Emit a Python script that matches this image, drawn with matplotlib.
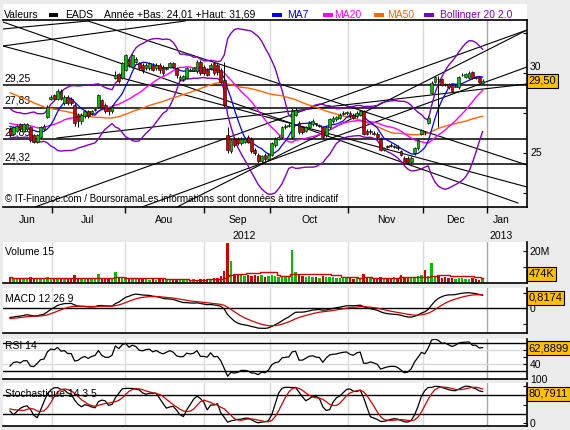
import numpy as np
import pandas as pd
import matplotlib
matplotlib.use("Agg")
import matplotlib.pyplot as plt
from matplotlib.patches import Rectangle
from matplotlib.transforms import blended_transform_factory as blend

plt.rcParams['font.family'] = ['Liberation Sans', 'DejaVu Sans']

W, H = 570, 430
BG = '#ebebeb'
GREEN = '#00c000'
RED = '#d00000'
PURPLE = '#8000c0'
GOLD = '#ffc000'

# closes before the visible window (only feed the MA50 / Bollinger / MACD start)
pre_close = [31.2, 30.9, 31.4, 30.8, 30.6, 31.0, 30.7, 30.3, 30.9, 31.1, 30.6, 30.4, 30.8, 30.5, 30.9,
             30.4, 30.6, 30.1, 29.8, 30.0, 29.5, 29.7, 29.2, 28.9, 29.3, 28.7, 28.4, 28.6, 28.1, 27.9,
             27.8, 27.4, 26.9, 27.3, 26.6, 26.3, 26.9, 27.4, 26.7, 26.2, 26.5, 27.0, 27.5, 27.1, 26.7,
             26.3, 26.9, 27.1, 26.5]

# daily candles, mid June -> end of December 2012
opens = [26.5, 26.2, 26.4, 26.8, 26.4, 26.5, 26.6, 26.1, 25.7, 26.0,
         26.5, 27.25, 28.4, 28.6, 28.4, 28.9, 28.1, 28.5, 28.4, 28.0,
         27.4, 27.0, 27.3, 27.6, 27.5, 27.7, 27.9, 28.3, 28.0, 27.8,
         27.6, 29.7, 29.95, 29.7, 30.2, 30.9, 30.4, 30.7, 30.6, 30.5,
         30.3, 30.3, 30.5, 30.3, 30.5, 30.4, 30.25, 30.4, 30.6, 30.3,
         29.6, 29.6, 29.7, 30.15, 30.2, 30.1, 30.7, 30.4, 30.2, 30.3,
         30.6, 30.5, 30.2, 29.55, 26.1, 25.1, 25.9, 25.9, 25.6, 25.7,
         26.0, 25.9, 25.2, 24.9, 24.5, 24.9, 24.6, 24.9, 25.5, 25.9,
         26.0, 26.65, 26.7, 26.0, 27.4, 26.9, 26.6, 26.4, 26.6, 26.8,
         26.85, 26.7, 26.6, 26.1, 26.6, 27.0, 27.1, 27.2, 27.45, 27.5,
         27.5, 27.4, 27.3, 27.4, 27.6, 26.4, 26.3, 26.25, 26.2, 25.9,
         25.2, 25.4, 25.5, 25.4, 25.35, 25.1, 24.7, 24.7, 24.45, 25.0,
         25.3, 26.2, 26.3, 26.9, 28.75, 29.45, 29.6, 29.6, 29.3, 29.3,
         29.25, 29.15, 29.1, 29.85, 29.75, 29.7, 30.05, 29.7, 29.75, 29.4]
closes = [26.1, 26.6, 26.7, 26.5, 26.8, 26.8, 25.8, 25.7, 26.1, 26.6,
          26.7, 27.9, 28.5, 28.4, 28.9, 28.4, 28.5, 28.1, 28.1, 26.9,
          27.0, 27.4, 27.6, 27.3, 27.6, 27.75, 28.6, 27.9, 27.6, 27.6,
          27.9, 29.9, 29.5, 30.6, 31.1, 30.5, 31.1, 30.9, 30.3, 30.2,
          30.5, 30.6, 30.2, 30.5, 30.2, 30.0, 30.3, 30.6, 30.4, 29.9,
          29.75, 29.8, 30.3, 30.2, 30.3, 30.7, 30.0, 30.0, 29.9, 30.5,
          30.0, 30.05, 29.45, 28.0, 25.2, 25.8, 25.5, 25.6, 25.9, 25.9,
          25.7, 25.1, 25.0, 24.5, 24.8, 24.6, 24.9, 25.6, 25.9, 26.0,
          26.6, 26.7, 26.75, 27.6, 27.7, 26.3, 26.3, 26.6, 26.9, 27.0,
          26.8, 26.75, 26.0, 26.6, 27.1, 27.2, 27.25, 27.4, 27.5, 27.55,
          27.3, 27.2, 27.5, 27.6, 26.2, 26.2, 26.35, 26.2, 26.0, 25.2,
          25.3, 25.4, 25.45, 25.45, 25.3, 24.9, 24.4, 24.45, 24.7, 25.3,
          25.8, 26.45, 26.3, 27.2, 29.4, 29.75, 29.6, 29.25, 29.3, 29.1,
          28.9, 29.2, 29.75, 29.9, 29.95, 30.0, 29.7, 29.7, 29.45, 29.5]
highs = [26.6, 26.7, 26.8, 26.9, 26.9, 26.9, 26.7, 26.2, 26.2, 26.7,
         26.8, 28.0, 28.6, 28.7, 29.0, 29.0, 28.6, 28.6, 28.5, 28.1,
         27.5, 27.5, 27.7, 27.7, 27.7, 27.8, 28.7, 28.4, 28.1, 27.9,
         28.0, 30.1, 30.0, 30.7, 31.2, 31.0, 31.2, 31.0, 30.7, 30.6,
         30.6, 30.7, 30.6, 30.6, 30.6, 30.5, 30.4, 30.7, 30.7, 30.4,
         29.9, 29.9, 30.4, 30.3, 30.4, 30.8, 30.8, 30.5, 30.3, 30.6,
         30.7, 30.6, 30.3, 30.7, 26.6, 25.9, 26.0, 26.0, 26.0, 26.0,
         26.1, 26.0, 25.3, 25.0, 24.9, 25.0, 25.0, 25.7, 26.0, 26.1,
         26.7, 26.8, 26.9, 27.8, 27.8, 27.0, 26.7, 26.7, 27.0, 27.1,
         26.9, 26.8, 26.7, 26.7, 27.2, 27.3, 27.3, 27.5, 27.6, 27.6,
         27.6, 27.5, 27.6, 27.7, 27.7, 26.5, 26.5, 26.4, 26.3, 26.0,
         25.4, 25.5, 25.6, 25.5, 25.5, 25.2, 24.8, 24.8, 24.8, 25.4,
         25.9, 26.5, 26.4, 27.3, 29.5, 29.8, 29.8, 29.7, 29.4, 29.4,
         29.3, 29.3, 29.8, 30.0, 30.0, 30.1, 30.1, 29.8, 29.8, 29.6]
lows = [26.0, 26.1, 26.3, 26.4, 26.3, 26.4, 25.7, 25.6, 25.6, 25.9,
        26.4, 27.2, 28.3, 28.3, 28.3, 28.3, 28.0, 28.0, 28.0, 26.7,
        26.6, 26.8, 27.2, 27.2, 27.4, 27.6, 27.8, 27.8, 27.5, 27.4,
        27.5, 29.6, 29.4, 29.6, 30.1, 30.4, 30.3, 30.6, 30.2, 30.0,
        30.2, 30.2, 30.1, 30.2, 30.0, 29.9, 30.2, 30.3, 30.3, 29.7,
        29.5, 29.5, 29.6, 30.1, 30.1, 30.0, 29.9, 29.9, 29.8, 30.2,
        29.9, 29.9, 29.4, 27.9, 25.0, 25.0, 25.4, 25.5, 25.5, 25.6,
        25.6, 25.0, 24.9, 24.4, 24.3, 24.5, 24.5, 24.8, 25.4, 25.8,
        25.9, 26.5, 26.6, 25.9, 27.3, 26.2, 26.2, 26.3, 26.5, 26.7,
        26.7, 26.6, 25.9, 26.0, 26.5, 26.9, 27.0, 27.1, 27.4, 27.4,
        27.2, 27.1, 27.2, 27.3, 26.1, 26.1, 26.2, 26.1, 25.9, 25.1,
        25.1, 25.3, 25.4, 25.3, 25.2, 24.8, 24.3, 24.3, 24.4, 24.9,
        25.2, 26.1, 26.1, 26.8, 28.7, 29.4, 26.6, 29.2, 29.2, 29.0,
        28.8, 29.1, 29.0, 29.8, 29.7, 29.6, 29.6, 29.6, 29.4, 29.3]
# volume in millions of shares
volume = [3.8, 2.9, 3.2, 2.6, 3.0, 2.7, 3.5, 3.1, 2.8, 3.3, 2.9,
          3.6, 3.0, 2.7, 3.2, 2.9, 2.6, 3.1, 2.8, 5.3,
          3.4, 2.9, 3.1, 2.7, 2.8, 2.6, 5.4, 3.0, 2.8, 2.6, 2.9, 6.8,
          3.5, 3.2, 3.6, 2.9, 3.1, 2.7,
          2.4, 2.2, 2.6, 2.1, 2.3, 1.9, 2.2, 2.5, 1.6, 1.8, 2.0, 2.3, 2.6, 2.1, 2.4, 1.9, 2.2, 2.0, 2.7, 2.5, 2.3,
          2.6, 3.0, 3.4, 4.2, 7.6, 25.0, 13.6,
          5.2, 4.8, 5.0, 4.6, 5.1,
          4.2, 5.0, 4.4, 4.7, 3.9, 4.5, 4.8, 4.3, 3.8, 4.6, 4.0, 4.4, 20.8, 6.6,
          5.2, 4.5, 3.9, 4.2, 3.6, 3.8, 3.4, 4.1, 3.7, 3.5, 3.9,
          3.2, 3.0, 3.4, 2.9, 3.1, 2.8, 3.3, 3.0, 5.6,
          3.6, 3.2, 3.0, 3.4, 4.0, 3.3, 2.9, 3.1, 3.5, 3.2, 5.0,
          3.6, 3.4, 3.1, 3.8, 4.2, 5.0, 7.9, 4.4, 12.3,
          4.6, 4.1, 3.3, 3.5, 2.9, 3.2, 2.7, 3.4, 3.0, 2.6, 2.8, 3.2, 2.2, 2.0, 2.4]

levels = [29.25, 27.83, 25.85, 24.32]
level_labels = ['29,25', '27,83', '25,85', '24,32']

# trend lines: (day0, price0, day1, price1)
trend_lines = [
    (22.94, 33.245, 152.06, 24.256),
    (-2.06, 32.746, 22.94, 33.245),
    (-2.06, 31.684, 51.47, 33.245),
    (-2.06, 31.684, 152.06, 22.883),
    (-2.06, 33.183, 149.41, 21.884),
    (7.35, 21.634, 152.06, 32.683),
    (13.82, 25.942, 152.06, 29.312),
    (49.12, 21.634, 152.06, 32.683),
    (38.82, 21.634, 152.06, 30.374),
]

month_edges = [12.35, 33.8, 57.1, 76.5, 99.4, 121.5]
last_day = 140.3
months = ['Jun', 'Jul', 'Aou', 'Sep', 'Oct', 'Nov', 'Dec', 'Jan']
month_pos = [5.0, 22.9, 45.3, 67.1, 88.2, 110.6, 130.9, 144.4]
years = ['2012', '2013']
year_pos = [68.8, 144.4]

# ---- indicators ----
n = len(closes)
x = np.arange(n)
k = len(pre_close)
allc = pd.Series(pre_close + closes)
ma7 = allc.rolling(7).mean().iloc[k:].values
m20 = allc.rolling(20).mean()
sd20 = allc.rolling(20).std(ddof=0)
bb_up = (m20 + 2 * sd20).iloc[k:].values
bb_lo = (m20 - 2 * sd20).iloc[k:].values
ma20 = m20.iloc[k:].values
ma50 = allc.rolling(50).mean().iloc[k:].values

macd = allc.ewm(span=12, adjust=False).mean() - allc.ewm(span=26, adjust=False).mean()
signal = macd.ewm(span=9, adjust=False).mean()
macd, signal = macd.iloc[k:].values, signal.iloc[k:].values

d = allc.diff()
gain = d.clip(lower=0).ewm(alpha=1 / 14, adjust=False).mean()
loss = (-d.clip(upper=0)).ewm(alpha=1 / 14, adjust=False).mean()
rsi = (100 - 100 / (1 + gain / loss)).iloc[k:].values

allh = pd.Series(pre_close + highs)
alll = pd.Series(pre_close + lows)
hh = allh.rolling(14).max()
ll = alll.rolling(14).min()
kslow = (100 * (allc - ll) / (hh - ll)).rolling(3).mean()
dline = kslow.rolling(5).mean()
kslow, dline = kslow.iloc[k:].values, dline.iloc[k:].values

vol_ma = pd.Series(volume).rolling(15, min_periods=1).mean().values

o = np.array(opens)
c = np.array(closes)
up = c > o
cols = np.where(up, GREEN, RED)

# ---- figure ----
fig = plt.figure(figsize=(W / 100, H / 100), dpi=100, facecolor=BG)


def px(x0, y0, x1, y1):
    return [x0 / W, 1 - y1 / H, (x1 - x0) / W, (y1 - y0) / H]


def panel(y0, y1, ylim):
    ax = fig.add_axes(px(3, y0, 527, y1))
    ax.set_facecolor('white')
    ax.set_xlim(-2.06, 152.06)
    ax.set_ylim(*ylim)
    for s in ('left', 'top'):
        ax.spines[s].set_visible(False)
    for s in ('bottom', 'right'):
        ax.spines[s].set_linewidth(1.2)
    ax.yaxis.tick_right()
    ax.tick_params(axis='y', direction='in', length=3, labelsize=7.5, pad=2)
    ax.set_xticks([])
    for m in month_edges:
        ax.axvline(m, color='#dadada', lw=1, zorder=0)
    ax.axvline(last_day, color='#a6a6a6', lw=1, zorder=0)
    return ax


def box(ax, y, txt):
    ax.text(1.003, y, txt, transform=blend(ax.transAxes, ax.transData), ha='left', va='center',
            fontsize=8, zorder=10, clip_on=False,
            bbox=dict(boxstyle='square,pad=0.18', fc=GOLD, ec='black', lw=0.8))


def side_label(ax, y, txt, va='center'):
    ax.text(1.006, y, txt, transform=blend(ax.transAxes, ax.transData), ha='left', va=va,
            fontsize=7.5, clip_on=False)


# legend strip
fig.add_artist(Rectangle((3 / W, 1 - 20 / H), 524 / W, 16 / H, transform=fig.transFigure,
                         fc='white', ec='none', zorder=0))
ly = 1 - 14.5 / H
fig.text(3.6 / W, ly, 'Valeurs', fontsize=7.5, va='center')
fig.text(65 / W, ly, 'EADS', fontsize=7.5, va='center')
fig.text(104 / W, ly, 'Année +Bas: 24,01 +Haut: 31,69', fontsize=7.5, va='center')
legend_items = [('MA7', '#0000ff', 272, 287), ('MA20', '#ff00ff', 323, 334),
                ('MA50', '#ff6600', 374, 387), ('Bollinger 20 2.0', PURPLE, 424, 440)]
fig.add_artist(Rectangle((49 / W, 1 - 16.5 / H), 9 / W, 4 / H, transform=fig.transFigure, fc='black', ec='none'))
for lab, col, sx, tx in legend_items:
    fig.add_artist(Rectangle((sx / W, 1 - 16.5 / H), 10 / W, 4 / H, transform=fig.transFigure, fc=col, ec='none'))
    fig.text(tx / W, ly, lab, fontsize=7.5, va='center', color=col)

# ---- main price panel ----
ax = panel(20, 207, (21.634, 33.307))
ax.spines['top'].set_visible(True)
ax.spines['top'].set_linewidth(1.2)
for a, p, b, q in trend_lines:
    ax.plot([a, b], [p, q], color='black', lw=0.8, zorder=1.5)
for lv, lab in zip(levels, level_labels):
    ax.axhline(lv, color='black', lw=1.1, zorder=1.5)
    ax.text(-1.5, lv + 0.12, lab, fontsize=7.5, va='bottom', ha='left', zorder=2)
ax.plot(x, bb_up, color=PURPLE, lw=1, zorder=2)
ax.plot(x, bb_lo, color=PURPLE, lw=1, zorder=2)
ax.plot(x, ma50, color='#ff6600', lw=1, zorder=2)
ax.plot(x, ma20, color='#ff00ff', lw=1, zorder=2)
ax.plot(x, ma7, color='#0000ff', lw=0.9, zorder=2)
ax.vlines(x, lows, highs, color='black', lw=0.7, zorder=3)
ax.bar(x, np.maximum(np.abs(c - o), 0.04), bottom=np.minimum(o, c), width=0.8,
       color=cols, edgecolor='black', linewidth=0.4, zorder=4)
ax.set_yticks([22.5, 25, 27.5, 30, 32.5])
ax.set_yticklabels([])
side_label(ax, 25, '25')
side_label(ax, 30.05, '30', va='bottom')
ax.set_xticks(month_edges + [last_day])
ax.set_xticklabels([])
ax.tick_params(axis='x', direction='out', length=4, width=1)
ax.text(0.004, 0.045, '© IT-Finance.com / BoursoramaLes informations sont données à titre indicatif',
        transform=ax.transAxes, fontsize=7, va='center', zorder=5)
tr = blend(ax.transData, ax.transAxes)
for name, pos in zip(months, month_pos):
    ax.text(pos, (207 - 220) / 187, name, transform=tr, ha='center', va='center', fontsize=7.5, clip_on=False)
for name, pos in zip(years, year_pos):
    ax.text(pos, (207 - 236) / 187, name, transform=tr, ha='center', va='center', fontsize=7.5, clip_on=False)
box(ax, closes[-1], '29,50')

# ---- volume ----
axv = panel(242, 283, (0, 25.6))
axv.bar(x, volume, width=0.65, color=cols, zorder=2)
axv.plot(x, vol_ma, color=RED, lw=1, drawstyle='steps-mid', zorder=3)
axv.set_yticks([10, 20])
axv.set_yticklabels(['', '20M'])
axv.text(0.004, 0.76, 'Volume 15', transform=axv.transAxes, fontsize=7.5, va='center')
box(axv, 5.6, '474K')

# ---- MACD ----
axm = panel(288, 333, (-1.61, 1.29))
axm.axhline(0, color='black', lw=1, zorder=1)
axm.plot(x, macd, color='black', lw=0.9, zorder=2)
axm.plot(x, signal, color=RED, lw=0.9, zorder=3)
axm.set_yticks([-1, 0, 1])
axm.set_yticklabels(['', '0', ''])
axm.text(0.004, 0.76, 'MACD 12 26 9', transform=axm.transAxes, fontsize=7.5, va='center')
box(axm, 0.65, '0,8174')

# ---- RSI ----
axr = panel(339, 379, (18.4, 76.5))
for g in (40, 60):
    axr.axhline(g, color='#dadada', lw=1, zorder=0)
for g in (30, 70):
    axr.axhline(g, color='black', lw=1, zorder=1)
axr.plot(x, rsi, color='black', lw=0.9, zorder=2)
axr.set_yticks([40, 50, 60])
axr.set_yticklabels(['40', '', ''])
axr.text(0.004, 0.82, 'RSI 14', transform=axr.transAxes, fontsize=7.5, va='center')
box(axr, 62.89, '62,8899')

# ---- Stochastic ----
axs = panel(383, 426, (-6.6, 106.9))
for g in (25, 75):
    axs.axhline(g, color='black', lw=1, zorder=1)
axs.plot(x, kslow, color='black', lw=0.9, zorder=2)
axs.plot(x, dline, color=RED, lw=0.9, zorder=3)
axs.set_yticks([0, 50, 100])
axs.set_yticklabels(['0', '', ''])
side_label(axs, 101, '100', va='bottom')
axs.text(0.004, 0.75, 'Stochastique 14 3 5', transform=axs.transAxes, fontsize=7.5, va='center')
box(axs, 78.5, '80,7911')

fig.savefig('out.png', dpi=100, facecolor=BG)
